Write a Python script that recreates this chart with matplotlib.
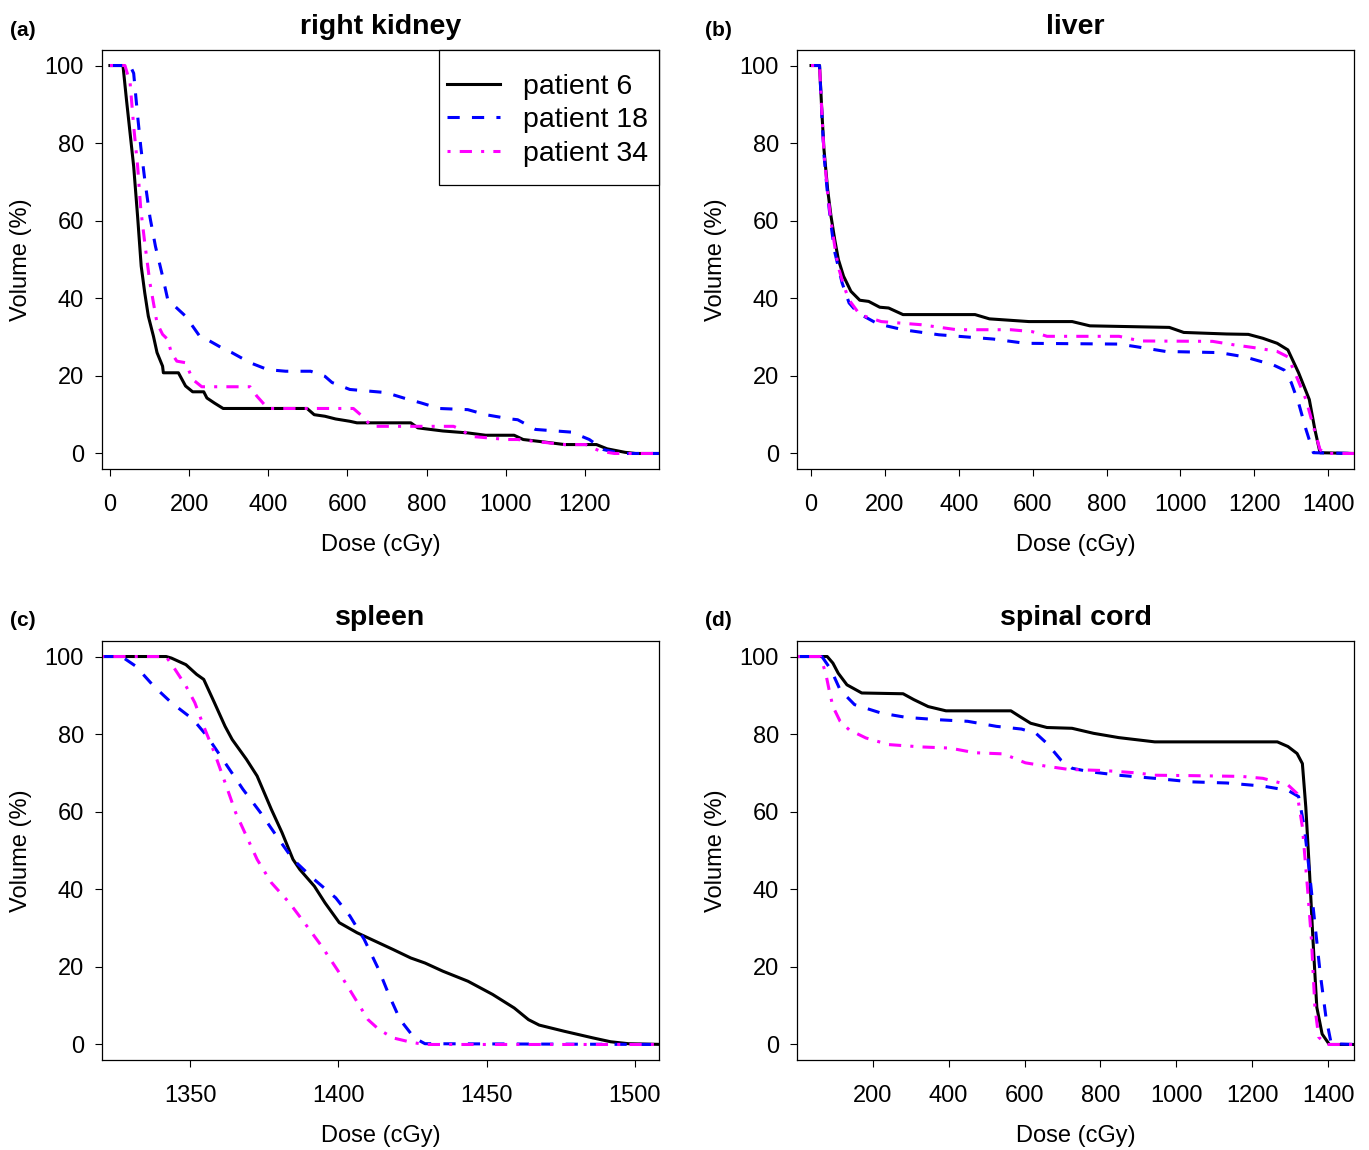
import matplotlib
matplotlib.use("Agg")
import matplotlib.pyplot as plt
from matplotlib.patches import Rectangle

plt.rcParams['font.family'] = ['Liberation Sans', 'DejaVu Sans']

# ---- panel (a) right kidney ----
rk_p6_x = [0, 33, 42, 60, 70, 79, 88, 97, 110, 119, 133, 135, 173, 191, 209, 237, 245, 264, 286,
           498, 516, 543, 570, 606, 624, 760, 778, 841, 904, 949, 1021, 1044, 1102, 1148, 1229,
           1256, 1301, 1328, 1400]
rk_p6_y = [100, 100, 91, 74, 61, 48.3, 41.4, 35.4, 30.2, 26, 22.5, 20.8, 20.8, 17.4, 15.9, 15.9,
           14.3, 13, 11.6, 11.6, 10, 9.6, 8.9, 8.3, 7.9, 7.9, 6.6, 5.8, 5.3, 4.7, 4.7, 3.6, 2.9,
           2.3, 2.3, 1.2, 0.3, 0, 0]
rk_p18_x = [0, 51, 60, 70, 78, 88, 101, 115, 133, 146, 155, 191, 227, 245, 290, 308, 354, 399,
            444, 507, 543, 561, 606, 697, 742, 787, 832, 904, 949, 1012, 1030, 1075, 1166, 1211,
            1247, 1292, 1400]
rk_p18_y = [100, 100, 98, 87, 79, 70.6, 61, 53.4, 45.7, 39.7, 38.8, 35.4, 30.2, 29.4, 26.8, 26,
            23.4, 21.6, 21.2, 21.2, 19.9, 18.3, 16.5, 15.7, 14.3, 13, 11.6, 11.3, 10, 8.9, 8.7,
            6.2, 5.5, 3.6, 1.0, 0, 0]
rk_p34_x = [0, 38, 51, 60, 70, 78, 88, 101, 110, 119, 133, 146, 155, 169, 191, 209, 232, 354,
            371, 399, 615, 642, 660, 868, 886, 913, 1003, 1030, 1148, 1202, 1238, 1274, 1400]
rk_p34_y = [100, 100, 95.5, 84.4, 74, 62.9, 54.3, 44, 38.8, 33.6, 30.7, 29.4, 26, 23.8, 23.4,
            19.1, 17.2, 17.2, 14.8, 11.6, 11.6, 9.2, 7.0, 7.0, 6.2, 4.4, 3.6, 3.6, 2.3, 2.3,
            0.6, 0, 0]

# ---- panel (b) liver ----
lv_p6_x = [0, 23, 30, 35, 45, 54, 64, 74, 88, 108, 132, 156, 186, 210, 249, 444, 483, 590, 707,
           755, 970, 1009, 1125, 1184, 1223, 1262, 1291, 1320, 1349, 1364, 1378, 1470]
lv_p6_y = [100, 100, 86.9, 78.4, 68, 61.2, 55.2, 50, 45.7, 41.8, 39.5, 39.2, 37.7, 37.5, 35.8,
           35.8, 34.7, 34, 34, 32.9, 32.5, 31.2, 30.8, 30.7, 29.7, 28.4, 26.7, 20.8, 13.9, 6.2,
           0.2, 0]
lv_p18_x = [0, 23, 30, 35, 45, 54, 64, 84, 103, 127, 181, 249, 346, 493, 580, 834, 882, 960,
            1106, 1174, 1252, 1281, 1300, 1320, 1340, 1360, 1470]
lv_p18_y = [100, 100, 86, 77, 66.5, 59, 52, 44, 38.8, 36.2, 33.4, 31.9, 30.6, 29.5, 28.4, 28.2,
            27.5, 26.3, 26, 24.9, 22.8, 21.5, 18.3, 13, 6.2, 0.2, 0]
lv_p34_x = [0, 23, 30, 35, 45, 54, 64, 74, 88, 102, 132, 190, 297, 395, 541, 599, 639, 834,
            892, 1087, 1145, 1213, 1262, 1291, 1310, 1340, 1360, 1378, 1393, 1470]
lv_p34_y = [100, 100, 86.5, 77.5, 67, 60, 53.5, 48, 43.5, 39.7, 35.8, 34, 33.2, 31.9, 31.9,
            31.4, 30.2, 30.2, 29, 28.9, 28, 27.1, 26.3, 24.9, 20.8, 13.9, 7, 1, 0, 0]

# ---- panel (c) spleen ----
sp_p6_x = [1320, 1341.9, 1343.7, 1348.6, 1352.2, 1354.6, 1358.2, 1361.8, 1364.2, 1369, 1372.6,
           1377.4, 1381, 1384.7, 1387, 1391.9, 1395.5, 1400.3, 1406.3, 1418.4, 1424.4, 1429.2,
           1435.2, 1443.7, 1452, 1459.3, 1464.1, 1467.7, 1476.2, 1485.8, 1491.8, 1497.8, 1510]
sp_p6_y = [100, 100, 99.6, 97.9, 95.4, 94.1, 88.1, 82, 78.6, 73.5, 69.2, 60.6, 54.6, 47.7, 45.1,
           40.8, 36.5, 31.4, 28.8, 24.5, 22.3, 21, 18.9, 16.3, 12.9, 9.4, 6.4, 5, 3.4, 1.7, 0.7,
           0.2, 0]
sp_p18_x = [1320, 1326.9, 1331.7, 1337.7, 1343.7, 1351, 1355.7, 1361.8, 1367.8, 1373.8, 1379.9,
            1384.7, 1391.9, 1399.1, 1403.9, 1408.7, 1413.6, 1417.2, 1420.8, 1425.6, 1429.2, 1510]
sp_p18_y = [100, 100, 97.5, 92.4, 88.1, 83.8, 79.5, 72.6, 65.8, 59.7, 52.9, 47.7, 42.5, 37.8,
            33.1, 27.1, 19.3, 12.5, 6.4, 1.7, 0.2, 0]
sp_p34_x = [1320, 1341.9, 1345, 1348.6, 1351.6, 1354.6, 1358.2, 1361.8, 1365.4, 1369, 1372.6,
            1377.4, 1383.5, 1389.4, 1394.3, 1400.3, 1405.1, 1410, 1413.6, 1418.4, 1424.4, 1429,
            1510]
sp_p34_y = [100, 100, 96.6, 92.4, 88.1, 82, 75.2, 67.5, 59.7, 53.7, 47.7, 41.7, 36.5, 30.5,
            25.4, 18.5, 12.5, 6.4, 3.9, 1.7, 0.6, 0, 0]

# ---- panel (d) spinal cord ----
sc_p6_x = [0, 80, 95, 109, 132, 171, 280, 308, 346, 393, 564, 588, 616, 659, 725, 782, 848, 943,
           1266, 1294, 1318, 1332, 1341, 1351, 1360, 1370, 1384, 1403, 1470]
sc_p6_y = [100, 100, 98.3, 95.7, 92.7, 90.6, 90.4, 88.9, 87.1, 86, 86, 84.5, 82.8, 81.7, 81.5,
           80.2, 79.1, 78, 78, 76.8, 75, 72.4, 61.2, 44, 26.8, 9.6, 2.7, 0, 0]
sc_p18_x = [0, 66, 90, 114, 152, 223, 289, 374, 450, 526, 592, 630, 659, 696, 725, 772, 848, 943,
            1038, 1133, 1228, 1294, 1322, 1337, 1351, 1365, 1379, 1394, 1408, 1470]
sc_p18_y = [100, 100, 96.6, 91.4, 87.6, 85.4, 84.3, 83.7, 83.3, 82, 81.3, 80.2, 77.6, 73.3,
            71.2, 70.3, 69.4, 68.6, 67.7, 67.4, 66.6, 65.5, 63.9, 56.1, 44, 31.1, 18.3, 7.1, 0.2, 0]
sc_p34_x = [0, 62, 76, 85, 95, 114, 138, 182, 242, 327, 403, 469, 545, 602, 659, 716, 811, 896,
            943, 1038, 1171, 1228, 1294, 1318, 1332, 1346, 1356, 1365, 1375, 1394, 1470]
sc_p34_y = [100, 100, 95.7, 91.4, 87.1, 83.3, 81.1, 79, 77.3, 76.7, 76.4, 75.2, 74.9, 72.6,
            71.7, 70.9, 70.6, 70, 69.4, 69.3, 69.1, 68.6, 66.9, 64.7, 56.1, 39.7, 26.8, 9.6, 1.9,
            0, 0]

labels = ["patient 6", "patient 18", "patient 34"]
colors = ["black", "#0000FF", "#FF00FF"]
styles = ["-", (0, (4, 4)), (0, (1, 3, 4, 3))]

panels = [
    ("(a)", "right kidney", [(rk_p6_x, rk_p6_y), (rk_p18_x, rk_p18_y), (rk_p34_x, rk_p34_y)],
     (-20, 1387), [0, 200, 400, 600, 800, 1000, 1200]),
    ("(b)", "liver", [(lv_p6_x, lv_p6_y), (lv_p18_x, lv_p18_y), (lv_p34_x, lv_p34_y)],
     (-38, 1470), [0, 200, 400, 600, 800, 1000, 1200, 1400]),
    ("(c)", "spleen", [(sp_p6_x, sp_p6_y), (sp_p18_x, sp_p18_y), (sp_p34_x, sp_p34_y)],
     (1320.3, 1508.1), [1350, 1400, 1450, 1500]),
    ("(d)", "spinal cord", [(sc_p6_x, sc_p6_y), (sc_p18_x, sc_p18_y), (sc_p34_x, sc_p34_y)],
     (0.4, 1468), [200, 400, 600, 800, 1000, 1200, 1400]),
]

W, H = 1369, 1150
fig = plt.figure(figsize=(W / 100, H / 100), dpi=100)
lefts = [102, 797, 102, 797]
tops = [50, 50, 641, 641]
tag_pos = [(10, 30), (705, 30), (10, 620), (705, 620)]
aw, ah = 557, 419

for i, (tag, title, series, xlim, xt) in enumerate(panels):
    ax = fig.add_axes([lefts[i] / W, 1 - (tops[i] + ah) / H, aw / W, ah / H])
    for (x, y), lab, c, ls in zip(series, labels, colors, styles):
        ax.plot(x, y, color=c, linestyle=ls, lw=2.2, label=lab)
    ax.set_xlim(*xlim)
    ax.set_ylim(-4, 104)
    ax.set_xticks(xt)
    ax.set_yticks([0, 20, 40, 60, 80, 100])
    ax.tick_params(direction="out", length=5, width=0.8, labelsize=17)
    ax.tick_params(axis="x", pad=13)
    ax.tick_params(axis="y", pad=8)
    for s in ax.spines.values():
        s.set_linewidth(0.9)
    ax.set_xlabel("Dose (cGy)", fontsize=17, labelpad=13)
    ax.set_ylabel("Volume (%)", fontsize=17, labelpad=9)
    ax.set_title(title, fontsize=20.5, fontweight="bold", pad=11.5)
    fig.text(tag_pos[i][0] / W, 1 - tag_pos[i][1] / H, tag, fontsize=15, fontweight="bold",
             va="center", ha="left")
    if i == 0:
        box = Rectangle(((439 - 102) / aw, 1 - (185 - 50) / ah), 220 / aw, 135 / ah,
                        transform=ax.transAxes, facecolor="white", edgecolor="black",
                        linewidth=0.9, zorder=4, clip_on=False)
        ax.add_patch(box)
        leg = ax.legend(loc="upper left", bbox_to_anchor=((447 - 102) / aw, 1 - (74 - 50) / ah),
                        fontsize=20.5, handlelength=1.86, handletextpad=0.8,
                        labelspacing=0.26, borderaxespad=0, borderpad=0, frameon=False)
        leg.set_zorder(5)

fig.savefig("out.png", dpi=100)
